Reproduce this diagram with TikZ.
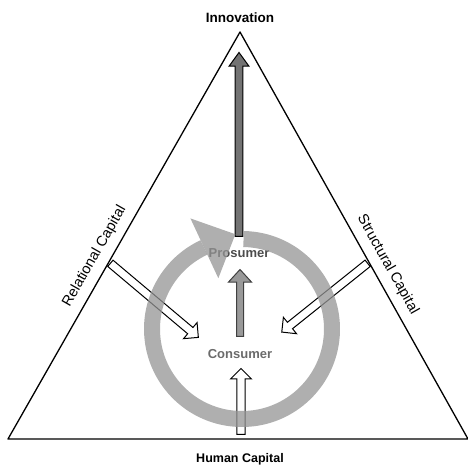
\documentclass[tikz,border=0pt]{standalone}
\usepackage{fontspec}
\setmainfont{Liberation Sans}
\usetikzlibrary{shapes.arrows}

\begin{document}
\begin{tikzpicture}[line cap=round,line join=round,x=1pt,y=1pt,
    blockarrow/.style={single arrow,draw=black,line width=1pt,inner sep=0pt,inner ysep=3.6pt,
      single arrow head extend=6.4pt,single arrow tip angle=90,anchor=tail,line join=miter},
    heading/.style={font=\fontsize{13}{15}\selectfont\bfseries,anchor=base},
    capname/.style={font=\fontsize{14.5}{16}\selectfont,sloped,above=4.5pt},
    ring/.style={line width=16pt,draw=black!42,line cap=butt,opacity=.75}]
    \useasboundingbox (0,0) rectangle (468,465);
    \coordinate (left) at (8,26);
    \coordinate (apex) at (240,433);
    \coordinate (right) at (468,26);
    \coordinate (hub) at (242,136);
    \draw[line width=1.3pt] (left) -- (apex) node[capname,pos=.43] (relcap) {Relational Capital}
      -- (right) node[capname,pos=.59] (strcap) {Structural Capital} -- cycle;
    \node[heading,font=\fontsize{13.5}{15}\selectfont\bfseries] (innov) at (240,442.3) {Innovation};
    \node[heading,font=\fontsize{12.5}{15}\selectfont\bfseries] (human) at (240,2.5) {Human Capital};
    \node[heading,color=black!70] (prosumer) at (239,207.3) {Prosumer};
    \node[heading,color=black!58] (consumer) at (240,106) {Consumer};
    \node[blockarrow,fill=black!55,minimum height=184pt,inner ysep=3.4pt,single arrow head extend=6pt,
      single arrow tip angle=72,rotate=90] (uparrow) at (239,228) {};
    \node[blockarrow,fill=black!40,draw=black!75,minimum height=67pt,inner ysep=3pt,single arrow head extend=8pt,
      single arrow tip angle=85,rotate=90] (midarrow) at (240,128) {};
    \node[blockarrow,fill=white,minimum height=66pt,rotate=90] (humarrow) at (241,30) {};
    \node[blockarrow,fill=white,minimum height=115pt,rotate=-40.1] (relarrow) at (110,202) {};
    \node[blockarrow,fill=white,minimum height=110pt,rotate=-141.3] (strarrow) at (368,202) {};
    % cycle arrow, drawn over the rest
    \draw[ring,shift={(hub)}] (89:90) arc[start angle=89,end angle=-245,radius=90];
    \fill[black!42,opacity=.75,shift={(hub)}] (115:56) -- (94:95) -- (115:122) -- cycle;
\end{tikzpicture}
\end{document}
